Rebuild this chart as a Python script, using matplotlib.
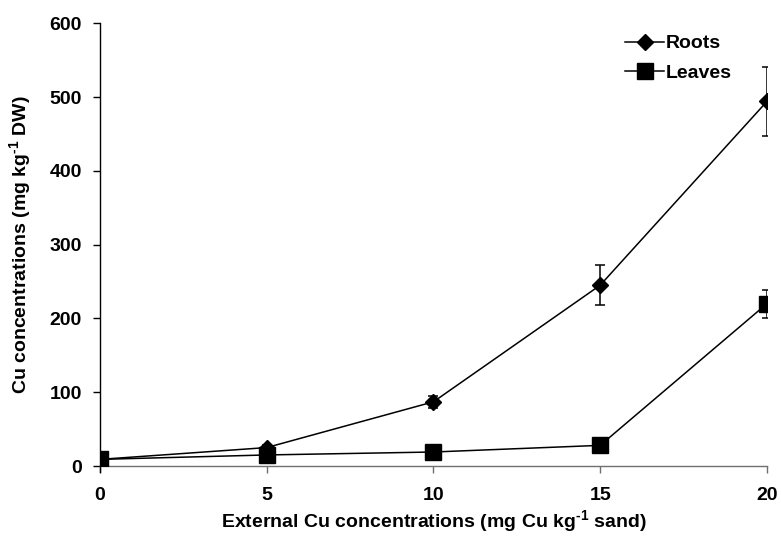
import numpy as np
import matplotlib
matplotlib.use("Agg")
import matplotlib.pyplot as plt

# data
external_cu = [0, 5, 10, 15, 20]
roots = [9, 25, 87, 245, 494]
roots_err = [2, 4, 8, 27, 47]
leaves = [9, 15, 19, 28, 220]
leaves_err = [1, 2, 2, 3, 19]

x_ticks = [0, 5, 10, 15, 20]
y_ticks = [0, 100, 200, 300, 400, 500, 600]

plt.rcParams['font.family'] = ['Liberation Sans', 'DejaVu Sans']
plt.rcParams['font.weight'] = 'bold'
plt.rcParams['mathtext.fontset'] = 'custom'
plt.rcParams['mathtext.rm'] = 'Liberation Sans:bold'
plt.rcParams['mathtext.bf'] = 'Liberation Sans:bold'

fig = plt.figure(figsize=(7.81, 5.4), dpi=100)
ax = fig.add_axes([0.128, 0.137, 0.854, 0.82])

# error bars (kept out of the legend)
ax.errorbar(external_cu, roots, yerr=roots_err, fmt='none', ecolor='black',
            capsize=3.5, elinewidth=1.1, capthick=1.1, zorder=2)
ax.errorbar(external_cu, leaves, yerr=leaves_err, fmt='none', ecolor='black',
            capsize=3.5, elinewidth=1.1, capthick=1.1, zorder=2)

ax.plot(external_cu, roots, color='black', lw=1.1, marker='D', ms=8.5,
        label='Roots', zorder=3)
ax.plot(external_cu, leaves, color='black', lw=1.1, marker='s', ms=11,
        label='Leaves', zorder=3)

ax.set_xlim(0, 20)
ax.set_ylim(0, 600)
ax.set_xticks(x_ticks)
ax.set_yticks(y_ticks)
ax.tick_params(axis='both', labelsize=14, direction='out', length=5, width=1)
ax.tick_params(axis='x', pad=10, color='#707070')
ax.tick_params(axis='y', pad=8)

ax.spines['top'].set_visible(False)
ax.spines['right'].set_visible(False)
ax.spines['bottom'].set_color('#707070')
ax.spines['left'].set_linewidth(1)
ax.spines['left'].set_bounds(-8, 600)
ax.spines['bottom'].set_linewidth(1)
for sp in ax.spines.values():
    sp.set_clip_on(False)

ax.set_xlabel(r'External Cu concentrations (mg Cu kg$^{\text{-}1}$ sand)',
              fontsize=14, fontweight='bold', labelpad=3)
ax.set_ylabel(r'Cu concentrations (mg kg$^{\text{-}1}$ DW)',
              fontsize=14, fontweight='bold', labelpad=11)

leg = ax.legend(loc='upper right', bbox_to_anchor=(0.965, 1.0), frameon=False,
                fontsize=14, handlelength=2.0, handletextpad=0.1,
                labelspacing=0.6, borderaxespad=0.2)
for t in leg.get_texts():
    t.set_fontweight('bold')

fig.savefig('out.png', dpi=100)
